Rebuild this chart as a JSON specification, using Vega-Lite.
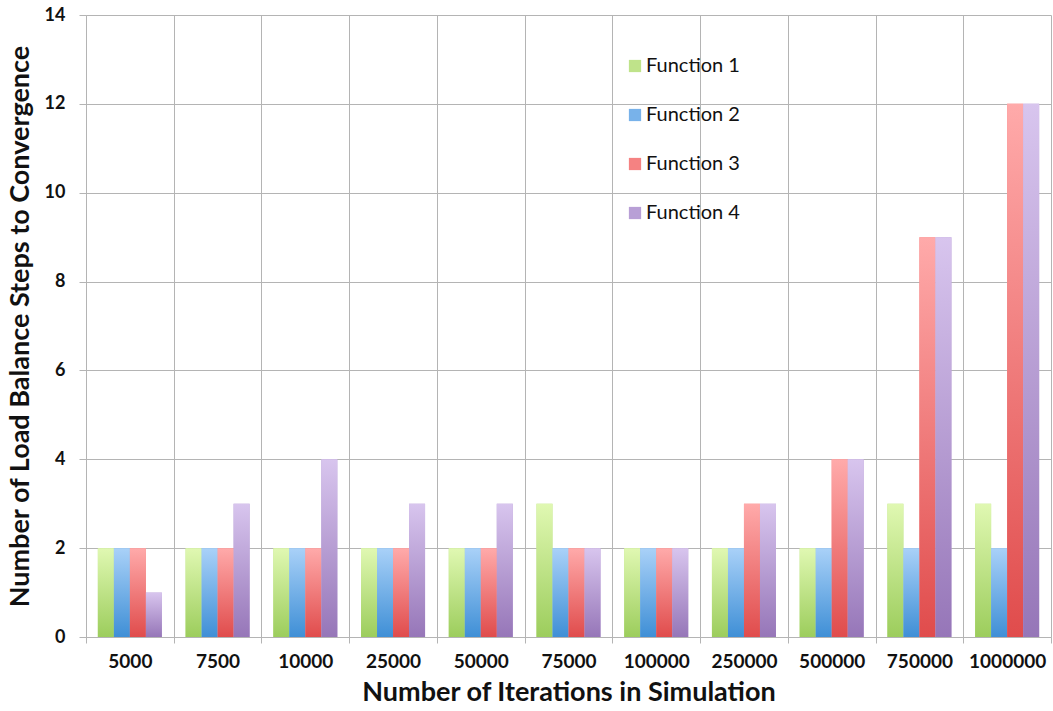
{
  "$schema": "https://vega.github.io/schema/vega-lite/v6.json",
  "width": 965,
  "height": 622,
  "autosize": {"type": "none"},
  "padding": {"left": 86, "top": 15, "right": 2, "bottom": 74},
  "background": "white",
  "config": {
    "view": {"stroke": null},
    "font": "Lato",
    "axis": {
      "gridColor": "#b4b4b4",
      "gridWidth": 1,
      "domainColor": "#b4b4b4",
      "tickColor": "#b4b4b4",
      "labelFont": "Lato",
      "labelFontWeight": "bold",
      "labelColor": "#111111",
      "titleFont": "Lato",
      "titleFontWeight": "bold",
      "titleFontSize": 27,
      "titleColor": "#111111"
    }
  },
  "data": {
    "values": [
      {"iterations": "5000", "series": "Function 1", "steps": 2},
      {"iterations": "5000", "series": "Function 2", "steps": 2},
      {"iterations": "5000", "series": "Function 3", "steps": 2},
      {"iterations": "5000", "series": "Function 4", "steps": 1},
      {"iterations": "7500", "series": "Function 1", "steps": 2},
      {"iterations": "7500", "series": "Function 2", "steps": 2},
      {"iterations": "7500", "series": "Function 3", "steps": 2},
      {"iterations": "7500", "series": "Function 4", "steps": 3},
      {"iterations": "10000", "series": "Function 1", "steps": 2},
      {"iterations": "10000", "series": "Function 2", "steps": 2},
      {"iterations": "10000", "series": "Function 3", "steps": 2},
      {"iterations": "10000", "series": "Function 4", "steps": 4},
      {"iterations": "25000", "series": "Function 1", "steps": 2},
      {"iterations": "25000", "series": "Function 2", "steps": 2},
      {"iterations": "25000", "series": "Function 3", "steps": 2},
      {"iterations": "25000", "series": "Function 4", "steps": 3},
      {"iterations": "50000", "series": "Function 1", "steps": 2},
      {"iterations": "50000", "series": "Function 2", "steps": 2},
      {"iterations": "50000", "series": "Function 3", "steps": 2},
      {"iterations": "50000", "series": "Function 4", "steps": 3},
      {"iterations": "75000", "series": "Function 1", "steps": 3},
      {"iterations": "75000", "series": "Function 2", "steps": 2},
      {"iterations": "75000", "series": "Function 3", "steps": 2},
      {"iterations": "75000", "series": "Function 4", "steps": 2},
      {"iterations": "100000", "series": "Function 1", "steps": 2},
      {"iterations": "100000", "series": "Function 2", "steps": 2},
      {"iterations": "100000", "series": "Function 3", "steps": 2},
      {"iterations": "100000", "series": "Function 4", "steps": 2},
      {"iterations": "250000", "series": "Function 1", "steps": 2},
      {"iterations": "250000", "series": "Function 2", "steps": 2},
      {"iterations": "250000", "series": "Function 3", "steps": 3},
      {"iterations": "250000", "series": "Function 4", "steps": 3},
      {"iterations": "500000", "series": "Function 1", "steps": 2},
      {"iterations": "500000", "series": "Function 2", "steps": 2},
      {"iterations": "500000", "series": "Function 3", "steps": 4},
      {"iterations": "500000", "series": "Function 4", "steps": 4},
      {"iterations": "750000", "series": "Function 1", "steps": 3},
      {"iterations": "750000", "series": "Function 2", "steps": 2},
      {"iterations": "750000", "series": "Function 3", "steps": 9},
      {"iterations": "750000", "series": "Function 4", "steps": 9},
      {"iterations": "1000000", "series": "Function 1", "steps": 3},
      {"iterations": "1000000", "series": "Function 2", "steps": 2},
      {"iterations": "1000000", "series": "Function 3", "steps": 12},
      {"iterations": "1000000", "series": "Function 4", "steps": 12}
    ]
  },
  "encoding": {
    "x": {
      "field": "iterations",
      "type": "nominal",
      "sort": null,
      "scale": {"paddingInner": 0, "paddingOuter": 0},
      "axis": {
        "title": "Number of Iterations in Simulation",
        "labelAngle": 0,
        "labelFontSize": 19,
        "tickBand": "extent",
        "grid": true,
        "tickSize": 6,
        "labelPadding": 9,
        "titlePadding": 8
      }
    },
    "xOffset": {
      "field": "series",
      "type": "nominal",
      "scale": {
        "domain": ["Function 1", "Function 2", "Function 3", "Function 4"],
        "paddingInner": 0,
        "paddingOuter": 0.74
      }
    },
    "y": {
      "field": "steps",
      "type": "quantitative",
      "scale": {"domain": [0, 14], "nice": false},
      "axis": {
        "title": "Number of Load Balance Steps to Convergence",
        "values": [0, 2, 4, 6, 8, 10, 12, 14],
        "labelFontSize": 18,
        "tickSize": 7,
        "labelPadding": 14,
        "titlePadding": 10
      }
    }
  },
  "layer": [
    {
      "mark": {"type": "bar"},
      "encoding": {
        "color": {
          "field": "series",
          "type": "nominal",
          "scale": {
            "domain": ["Function 1", "Function 2", "Function 3", "Function 4"],
            "range": ["#bfe38a", "#78b2ea", "#f58282", "#b89fd6"]
          },
          "legend": {
            "title": null,
            "orient": "none",
            "legendX": 539,
            "legendY": 41,
            "symbolType": "square",
            "symbolSize": 150,
            "symbolStrokeWidth": 0,
            "labelFont": "Lato",
            "labelFontSize": 20,
            "labelColor": "#111111",
            "labelOffset": 1,
            "rowPadding": 29
          }
        }
      }
    },
    {
      "transform": [{"filter": "datum.series === 'Function 1'"}],
      "mark": {
        "type": "bar",
        "fill": {"gradient": "linear", "x1": 0, "y1": 0, "x2": 0, "y2": 1,
          "stops": [{"offset": 0, "color": "#e0f8b2"}, {"offset": 1, "color": "#9ccd5c"}]}
      }
    },
    {
      "transform": [{"filter": "datum.series === 'Function 2'"}],
      "mark": {
        "type": "bar",
        "fill": {"gradient": "linear", "x1": 0, "y1": 0, "x2": 0, "y2": 1,
          "stops": [{"offset": 0, "color": "#a9d1f8"}, {"offset": 1, "color": "#3f8fd6"}]}
      }
    },
    {
      "transform": [{"filter": "datum.series === 'Function 3'"}],
      "mark": {
        "type": "bar",
        "fill": {"gradient": "linear", "x1": 0, "y1": 0, "x2": 0, "y2": 1,
          "stops": [{"offset": 0, "color": "#ffaaaa"}, {"offset": 1, "color": "#e04c4c"}]}
      }
    },
    {
      "transform": [{"filter": "datum.series === 'Function 4'"}],
      "mark": {
        "type": "bar",
        "fill": {"gradient": "linear", "x1": 0, "y1": 0, "x2": 0, "y2": 1,
          "stops": [{"offset": 0, "color": "#d8c5ee"}, {"offset": 1, "color": "#9676b8"}]}
      }
    }
  ]
}
